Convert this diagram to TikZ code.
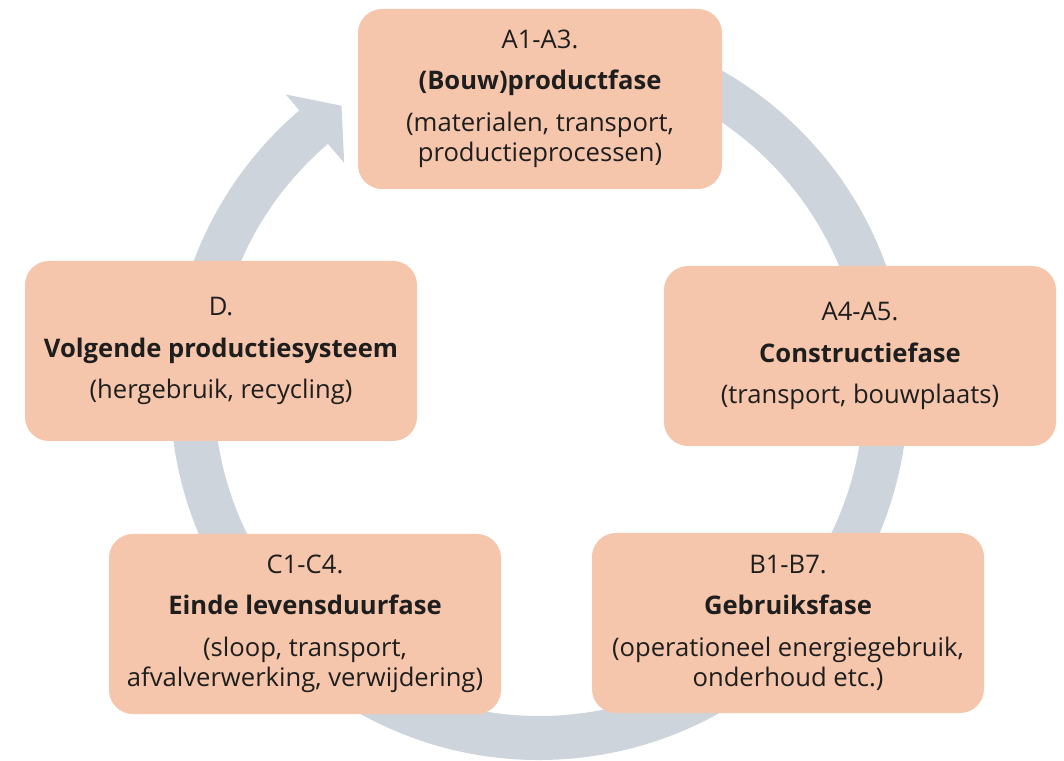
\documentclass[tikz,border=0pt]{standalone}
\usepackage{fontspec}
\setmainfont{Open Sans}
\usetikzlibrary{calc}

\begin{document}
\begin{tikzpicture}[x=0.5pt, y=0.5pt]
	\definecolor{ringgrey}{HTML}{CED4DB}
	\definecolor{phasefill}{HTML}{F5C6AB}
	\definecolor{phasetext}{HTML}{1E1E1E}
	\tikzset{
		phase/.style={fill=phasefill, rounded corners=12pt, minimum width=196pt, minimum height=90pt, align=center, text=phasetext, font=\fontsize{12.8}{15.2}\selectfont, inner sep=2pt},
	}
	\useasboundingbox (0,0) rectangle (1064,760);
	\coordinate (ctr) at (539,369); % centre of the ring
	
	% Draw the ring with its arrow head first, behind the boxes.
	\fill[ringgrey] ($(ctr)+(95:369)$) arc[start angle=95, end angle=-229.5, radius=369]
		-- ($(ctr)+(130.5:390)$) -- ($(ctr)+(124.7:347)$) -- ($(ctr)+(130.5:300)$)
		-- ($(ctr)+(130.5:325)$) arc[start angle=-229.5, end angle=95, radius=325] -- cycle;
	
	% Place the phases on top of the ring.
	\node[phase, minimum width=182pt] (prod) at (540,661) {A1-A3.\\[5.5pt]\textbf{(Bouw)productfase}\\[5.5pt](materialen, transport,\\productieprocessen)};
	\node[phase] (constr) at (860,404) {A4-A5.\\[5.5pt]\textbf{Constructiefase}\\[5.5pt](transport, bouwplaats)};
	\node[phase] (gebruik) at (788,137) {B1-B7.\\[5.5pt]\textbf{Gebruiksfase}\\[5.5pt](operationeel energiegebruik,\\onderhoud etc.)};
	\node[phase] (einde) at (305,136) {C1-C4.\\[5.5pt]\textbf{Einde levensduurfase}\\[5.5pt](sloop, transport,\\afvalverwerking, verwijdering)};
	\node[phase] (volgend) at (221,409) {D.\\[5.5pt]\textbf{Volgende productiesysteem}\\[5.5pt](hergebruik, recycling)};
\end{tikzpicture}
\end{document}
